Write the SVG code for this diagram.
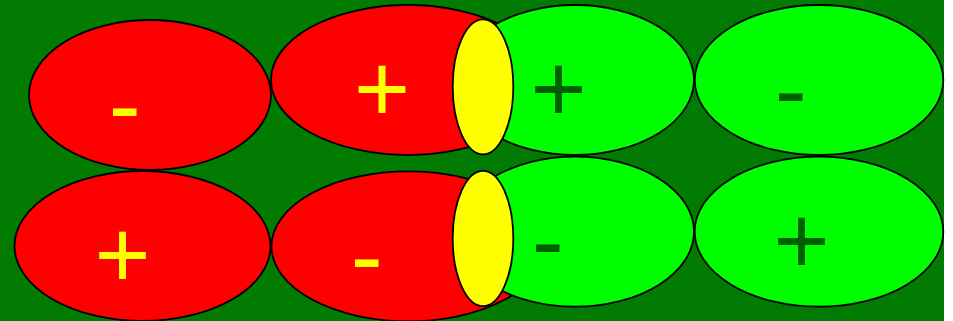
<svg xmlns="http://www.w3.org/2000/svg" width="953" height="321" viewBox="0 0 953 321">
<style>
.e{stroke:#000;stroke-width:1.8}
.r{fill:#ff0000}
.g{fill:#00ff00}
.y{fill:#ffff00}
.t{font-family:"Liberation Sans",Arial,sans-serif;font-size:96px}
.ty{fill:#ffff00}
.tg{fill:#006000}
</style>
<rect x="0" y="0" width="953" height="321" fill="#ffffff"/>
<rect x="0" y="0" width="944" height="321" fill="#017b01"/>
<g id="red-top-left"><ellipse class="e r" cx="150" cy="95" rx="121" ry="75"/><text class="t ty" x="108.7" y="138">-</text></g>
<g id="red-bottom-left"><ellipse class="e r" cx="142.5" cy="246" rx="128" ry="75"/><text class="t ty" x="94.6" y="288">+</text></g>
<g id="red-top-mid"><ellipse class="e r" cx="408" cy="80" rx="137" ry="75"/><text class="t ty" x="354" y="122.3">+</text></g>
<g id="red-bottom-mid"><ellipse class="e r" cx="408.5" cy="246.3" rx="137" ry="75"/><text class="t ty" x="350.7" y="288.6">-</text></g>
<g id="green-top-mid"><ellipse class="e g" cx="575" cy="80" rx="119" ry="75"/><text class="t tg" x="530.6" y="122">+</text></g>
<g id="green-bottom-mid"><ellipse class="e g" cx="575" cy="231.7" rx="119" ry="75"/><text class="t tg" x="531.7" y="273.6">-</text></g>
<g id="green-top-right"><ellipse class="e g" cx="819" cy="80" rx="124.3" ry="75"/><text class="t tg" x="774.7" y="122.6">-</text></g>
<g id="green-bottom-right"><ellipse class="e g" cx="819" cy="231.7" rx="124.3" ry="75"/><text class="t tg" x="773.6" y="274">+</text></g>
<g id="yellow-top"><ellipse class="e y" cx="483" cy="86.8" rx="30.3" ry="67.5"/></g>
<g id="yellow-bottom"><ellipse class="e y" cx="483" cy="238.5" rx="30.3" ry="67.7"/></g>
<g id="connectors"></g>
</svg>
